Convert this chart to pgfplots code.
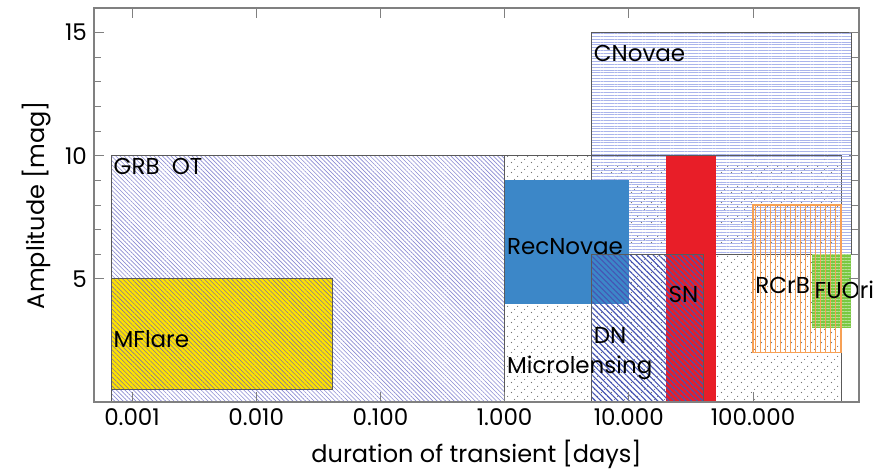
\documentclass[border=0pt]{standalone}
\usepackage{fontspec}
\setmainfont{Poppins}
\usepackage{pgfplots}
\pgfplotsset{compat=1.18}
\usetikzlibrary{patterns,patterns.meta}

\pgfdeclarepatternformonly{mdots}{\pgfqpoint{0pt}{0pt}}{\pgfqpoint{5pt}{5pt}}{\pgfqpoint{5pt}{5pt}}{%
  \pgfpathcircle{\pgfqpoint{0.83pt}{0.83pt}}{0.33pt}%
  \pgfpathcircle{\pgfqpoint{2.5pt}{2.5pt}}{0.33pt}%
  \pgfpathcircle{\pgfqpoint{4.17pt}{4.17pt}}{0.33pt}%
  \pgfusepath{fill}}

\definecolor{grbc}{RGB}{138,138,210}
\definecolor{mflarey}{RGB}{255,226,0}
\definecolor{mflareh}{RGB}{130,120,150}
\definecolor{cnovc}{RGB}{170,180,235}
\definecolor{recblue}{RGB}{60,135,200}
\definecolor{snred}{RGB}{232,30,40}
\definecolor{dnc}{RGB}{70,85,180}
\definecolor{fugreen}{RGB}{122,200,65}
\definecolor{rcrbc}{RGB}{247,160,85}
\definecolor{boxc}{RGB}{90,90,90}
\definecolor{axc}{RGB}{128,128,128}
\definecolor{dotc}{RGB}{115,115,115}

\newcommand{\lbl}{\fontsize{11.5}{13}\selectfont}

\begin{document}
\begin{tikzpicture}
\begin{axis}[name=ax, at={(0,0)}, anchor=south west,
  scale only axis, width=382.5pt, height=197pt,
  xmode=log, log basis x=10,
  xmin=0.000494, xmax=713, ymin=0, ymax=16,
  xtick={0.001,0.01,0.1,1,10,100},
  xticklabels={0.001,0.010,0.100,1.000,10.000,100.000},
  xminorticks=false,
  ytick={5,10,15}, minor y tick num=4,
  tick align=inside, major tick length=5pt, minor tick length=3.5pt,
  axis line style={axc, line width=0.6pt},
  tick style={axc, line width=0.5pt},
  tick label style={font=\lbl},
  label style={font=\fontsize{12}{14}\selectfont},
  /pgf/number format/assume math mode=true,
  xlabel={duration of transient [days]},
  ylabel={Amplitude [mag]},
  clip=false, axis on top,
]
% Microlensing
\addplot[draw=boxc, line width=0.5pt, pattern=mdots, pattern color=dotc]
  coordinates {(1,0) (511,0) (511,10) (1,10)} -- cycle;
% GRB OT
\addplot[draw=boxc, line width=0.5pt, pattern={Lines[angle=-45,distance=1.5pt,line width=0.3pt]}, pattern color=grbc]
  coordinates {(0.00068,0) (1,0) (1,10) (0.00068,10)} -- cycle;
% MFlare
\addplot[draw=boxc, line width=0.5pt, preaction={fill=mflarey}, pattern={Lines[angle=-45,distance=1.6pt,line width=0.3pt]}, pattern color=mflareh]
  coordinates {(0.00068,0.5) (0.0414,0.5) (0.0414,5) (0.00068,5)} -- cycle;
% CNovae
\addplot[draw=boxc, line width=0.5pt, pattern={Lines[angle=0,distance=1.4pt,line width=0.3pt]}, pattern color=cnovc]
  coordinates {(5,6) (615,6) (615,15) (5,15)} -- cycle;
% RecNovae
\addplot[draw=none, fill=recblue]
  coordinates {(1,4) (10,4) (10,9) (1,9)} -- cycle;
% SN
\addplot[draw=none, fill=snred]
  coordinates {(20,0) (50,0) (50,10) (20,10)} -- cycle;
% DN
\addplot[draw=boxc, line width=0.5pt, pattern={Lines[angle=-45,distance=2pt,line width=0.55pt]}, pattern color=dnc]
  coordinates {(5,0) (40,0) (40,6) (5,6)} -- cycle;
% FUOri
\addplot[draw=none, preaction={fill=fugreen}, pattern={Lines[angle=0,distance=1.5pt,line width=0.3pt]}, pattern color=fugreen!55!white]
  coordinates {(300,3) (615,3) (615,6) (300,6)} -- cycle;
% RCrB
\addplot[draw=rcrbc, line width=0.6pt, pattern={Lines[angle=90,distance=2.5pt,line width=0.5pt]}, pattern color=rcrbc]
  coordinates {(100,2) (511,2) (511,8) (100,8)} -- cycle;

\node[anchor=north west, inner sep=1pt, font=\lbl] at (axis cs:0.00068,10) {GRB\ \ OT};
\node[anchor=north west, inner sep=1pt, font=\lbl] at (axis cs:5,14.6) {CNovae};
\node[anchor=west, inner sep=1pt, font=\lbl] at (axis cs:1,6.3) {RecNovae};
\node[anchor=west, inner sep=1pt, font=\lbl] at (axis cs:0.00068,2.56) {MFlare};
\node[anchor=west, inner sep=1pt, font=\lbl] at (axis cs:20,4.35) {SN};
\node[anchor=west, inner sep=1pt, font=\lbl] at (axis cs:100,4.75) {RCrB};
\node[anchor=west, inner sep=1pt, font=\lbl] at (axis cs:300,4.55) {FUOri};
\node[anchor=west, inner sep=1pt, font=\lbl] at (axis cs:5,2.72) {DN};
\node[anchor=west, inner sep=1pt, font=\lbl] at (axis cs:1,1.38) {Microlensing};
\end{axis}
\pgfresetboundingbox
\path ([shift={(-47pt,-35.5pt)}]ax.south west) rectangle ([shift={(10.5pt,4pt)}]ax.north east);
\end{tikzpicture}
\end{document}
